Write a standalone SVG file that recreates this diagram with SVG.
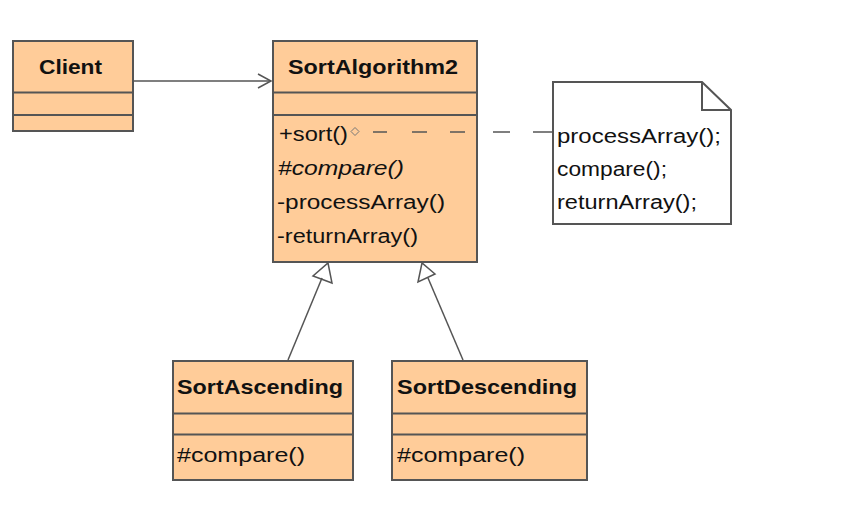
<svg xmlns="http://www.w3.org/2000/svg" width="846" height="520" viewBox="0 0 846 520">
<style>
.box{fill:#FFCC99;stroke:#555;stroke-width:2}
.div{stroke:#555;stroke-width:2}
.t{font-family:"Liberation Sans",Arial,sans-serif;font-size:20px;fill:#111}
.b{font-weight:bold;font-size:21px}
.i{font-style:italic}
.ln{fill:none;stroke:#555;stroke-width:1.5}
.note{fill:#fff;stroke:#555;stroke-width:2}
</style>
<rect width="846" height="520" fill="#fff"/>
<g id="client">
<rect class="box" x="13" y="41" width="120" height="90"/>
<line class="div" x1="13" y1="92.5" x2="133" y2="92.5"/>
<line class="div" x1="13" y1="115" x2="133" y2="115"/>
<text class="t b" x="39" y="74" textLength="63" lengthAdjust="spacingAndGlyphs">Client</text>
</g>
<g id="sortAlgorithm2">
<rect class="box" x="273" y="41" width="204" height="221"/>
<line class="div" x1="273" y1="92.5" x2="477" y2="92.5"/>
<line class="div" x1="273" y1="115" x2="477" y2="115"/>
<text class="t b" x="288" y="74" textLength="170" lengthAdjust="spacingAndGlyphs">SortAlgorithm2</text>
<text class="t" x="279" y="141" textLength="69" lengthAdjust="spacingAndGlyphs">+sort()</text>
<text class="t i" x="278" y="175" textLength="126" lengthAdjust="spacingAndGlyphs">#compare()</text>
<text class="t" x="277" y="209" textLength="168" lengthAdjust="spacingAndGlyphs">-processArray()</text>
<text class="t" x="277" y="243" textLength="141" lengthAdjust="spacingAndGlyphs">-returnArray()</text>
</g>
<g id="note">
<polygon class="note" points="553,82 702,82 731,110 731,224 553,224"/>
<polyline fill="none" stroke="#555" stroke-width="2" points="702,82 702,110 731,110"/>
<text class="t" x="557" y="143" textLength="164" lengthAdjust="spacingAndGlyphs">processArray();</text>
<text class="t" x="557" y="176" textLength="110" lengthAdjust="spacingAndGlyphs">compare();</text>
<text class="t" x="557" y="209" textLength="140" lengthAdjust="spacingAndGlyphs">returnArray();</text>
</g>
<g id="sortAscending">
<rect class="box" x="173" y="361" width="180" height="119"/>
<line class="div" x1="173" y1="413.5" x2="353" y2="413.5"/>
<line class="div" x1="173" y1="434.5" x2="353" y2="434.5"/>
<text class="t b" x="177" y="394" textLength="166" lengthAdjust="spacingAndGlyphs">SortAscending</text>
<text class="t" x="177" y="462" textLength="128" lengthAdjust="spacingAndGlyphs">#compare()</text>
</g>
<g id="sortDescending">
<rect class="box" x="392" y="361" width="195" height="119"/>
<line class="div" x1="392" y1="413.5" x2="587" y2="413.5"/>
<line class="div" x1="392" y1="434.5" x2="587" y2="434.5"/>
<text class="t b" x="397" y="394" textLength="180" lengthAdjust="spacingAndGlyphs">SortDescending</text>
<text class="t" x="397" y="462" textLength="128" lengthAdjust="spacingAndGlyphs">#compare()</text>
</g>
<g id="connectors">
<line class="ln" x1="133" y1="81" x2="271" y2="81"/>
<polyline class="ln" points="258,74 271,81 258,88"/>
<line class="ln" x1="288" y1="360" x2="322" y2="278"/>
<polygon class="ln" points="328,263 332,283 313,276" fill="#fff"/>
<line class="ln" x1="463" y1="360" x2="428" y2="278"/>
<polygon class="ln" points="422,263 418,282 435,274" fill="#fff"/>
<polygon points="355,127.5 359,131.5 355,135.5 351,131.5" fill="none" stroke="#777" stroke-width="1"/>
<line x1="373" y1="132" x2="552" y2="132" stroke="#555" stroke-width="1.5" stroke-dasharray="14 25 15 23 15 28 17 23 19"/>
</g>
</svg>
